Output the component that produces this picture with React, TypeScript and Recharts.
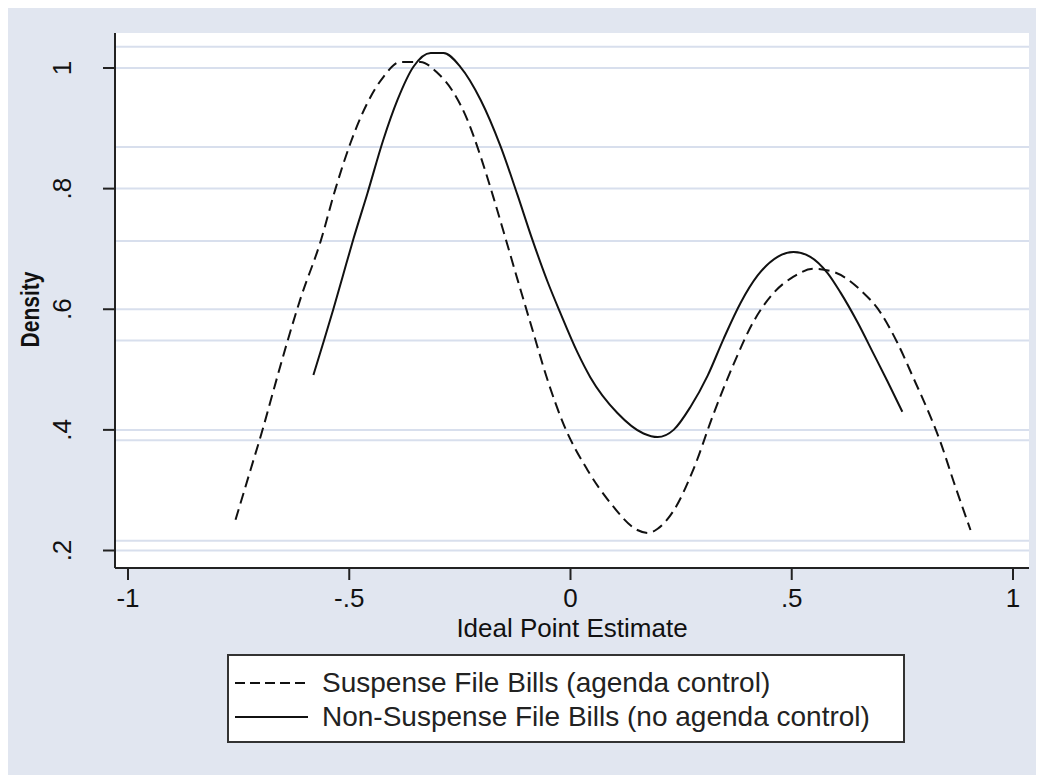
import React from "react";
import {
  LineChart,
  Line,
  XAxis,
  YAxis,
  CartesianGrid,
  ReferenceLine,
  Legend,
} from "recharts";

// kernel density estimates
const suspenseX = [
  -0.757, -0.723, -0.694, -0.671, -0.64, -0.61, -0.565, -0.531, -0.497, -0.459,
  -0.423, -0.384, -0.339, -0.301, -0.264, -0.233, -0.203, -0.174, -0.151, -0.118,
  -0.086, -0.052, -0.016, 0.038, 0.09, 0.151, 0.176, 0.197, 0.233, 0.278, 0.323,
  0.368, 0.414, 0.459, 0.504, 0.549, 0.594, 0.655, 0.701, 0.739, 0.775, 0.814,
  0.836, 0.866, 0.904,
];
const suspenseY = [
  0.251, 0.334, 0.405, 0.466, 0.546, 0.618, 0.712, 0.8, 0.876, 0.942, 0.985,
  1.01, 1.01, 0.992, 0.959, 0.914, 0.853, 0.785, 0.728, 0.645, 0.566, 0.483,
  0.41, 0.334, 0.279, 0.234, 0.229, 0.236, 0.266, 0.335, 0.426, 0.508, 0.58,
  0.627, 0.654, 0.667, 0.662, 0.632, 0.594, 0.544, 0.486, 0.421, 0.38, 0.314,
  0.234,
];

const nonSuspenseX = [
  -0.581, -0.558, -0.536, -0.515, -0.49, -0.459, -0.423, -0.391, -0.355, -0.316,
  -0.287, -0.249, -0.203, -0.158, -0.12, -0.086, -0.052, -0.023, 0.016, 0.045,
  0.106, 0.165, 0.197, 0.233, 0.271, 0.31, 0.346, 0.384, 0.423, 0.468, 0.504,
  0.542, 0.581, 0.61, 0.649, 0.685, 0.716, 0.75,
];
const nonSuspenseY = [
  0.491, 0.546, 0.6, 0.654, 0.718, 0.792, 0.881, 0.947, 1.002, 1.025, 1.025,
  1.002, 0.947, 0.87, 0.79, 0.715, 0.646, 0.594, 0.528, 0.487, 0.428, 0.394,
  0.388, 0.4, 0.438, 0.49, 0.551, 0.61, 0.656, 0.687, 0.695, 0.687, 0.66,
  0.628, 0.578, 0.526, 0.481, 0.43,
];

const xTicks = [-1, -0.5, 0, 0.5, 1];
const yTicks = [0.2, 0.4, 0.6, 0.8, 1];
// second set of faint rules that shows up in the original graph
const extraRules = [1.035, 0.869, 0.713, 0.548, 0.383, 0.216];

const seriesNames = [
  "Suspense File Bills (agenda control)",
  "Non-Suspense File Bills (no agenda control)",
];

const suspense = suspenseX.map((x, i) => ({ x, y: suspenseY[i] }));
const nonSuspense = nonSuspenseX.map((x, i) => ({ x, y: nonSuspenseY[i] }));

const BG = "#e1e6f0";
const RULE = "#d8dfed";
const FONT = "'Liberation Sans', Arial, sans-serif";

// stata style: drop the leading zero
const fmt = (v: number) => (v === 0 ? "0" : String(v).replace("0.", "."));

const YTick = ({ x, y, payload }: any) => (
  <g transform={`translate(${x - 32},${y})`}>
    <text
      transform="rotate(-90)"
      textAnchor="middle"
      fontSize={26}
      fontFamily={FONT}
      fill="#111"
    >
      {fmt(payload.value)}
    </text>
  </g>
);

const XTick = ({ x, y, payload }: any) => (
  <text
    x={x}
    y={y + 27}
    textAnchor="middle"
    fontSize={26}
    fontFamily={FONT}
    fill="#111"
  >
    {fmt(payload.value)}
  </text>
);

const YTitle = ({ viewBox }: any) => {
  const cy = viewBox.y + viewBox.height / 2 + 9;
  return (
    <text
      transform={`translate(32,${cy}) rotate(-90) scale(0.84,1)`}
      textAnchor="middle"
      fontSize={25}
      fontWeight="bold"
      fontFamily={FONT}
      fill="#111"
    >
      Density
    </text>
  );
};

const LegendBox = () => (
  <div
    style={{
      border: "2px solid #333",
      background: "#fff",
      padding: "10px 0 10px 6px",
      fontFamily: FONT,
      fontSize: 28,
      color: "#222",
      boxSizing: "border-box",
      width: 678,
      height: 89,
    }}
  >
    {seriesNames.map((name, i) => (
      <div
        key={name}
        style={{ display: "flex", alignItems: "center", height: 34 }}
      >
        <svg width={73} height={4} style={{ marginRight: 14 }}>
          <line
            x1={0}
            y1={2}
            x2={73}
            y2={2}
            stroke="#111"
            strokeWidth={2}
            strokeDasharray={i === 0 ? "10 5" : undefined}
          />
        </svg>
        <span style={{ whiteSpace: "nowrap" }}>{name}</span>
      </div>
    ))}
  </div>
);

export default function App() {
  return (
    <div style={{ marginLeft: -1, marginTop: -3, background: BG, width: 1037, height: 770 }}>
      <LineChart
        width={1037}
        height={770}
        margin={{ top: 28, right: 15, bottom: 127, left: 0 }}
      >
        <CartesianGrid
          horizontal={false}
          vertical={false}
          fill="#fff"
          stroke="none"
        />
        {yTicks.map((v) => (
          <ReferenceLine key={`g${v}`} y={v} stroke={RULE} strokeWidth={2} />
        ))}
        {extraRules.map((v) => (
          <ReferenceLine key={`r${v}`} y={v} stroke={RULE} strokeWidth={2} />
        ))}
        <XAxis
          type="number"
          dataKey="x"
          domain={[-1.0294, 1.0362]}
          ticks={xTicks}
          allowDataOverflow
          height={80}
          tickSize={12}
          tickMargin={0}
          axisLine={{ stroke: "#222", strokeWidth: 2 }}
          tickLine={{ stroke: "#222", strokeWidth: 2 }}
          tick={<XTick />}
          label={{
            value: "Ideal Point Estimate",
            position: "insideBottom",
            offset: 11,
            fontSize: 26,
            fontFamily: FONT,
            fill: "#111",
          }}
        />
        <YAxis
          type="number"
          domain={[0.171, 1.058]}
          ticks={yTicks}
          allowDataOverflow
          width={108}
          tickSize={12}
          tickMargin={0}
          axisLine={{ stroke: "#222", strokeWidth: 2 }}
          tickLine={{ stroke: "#222", strokeWidth: 2 }}
          tick={<YTick />}
          label={{ content: <YTitle /> }}
        />
        <Line
          data={suspense}
          dataKey="y"
          name={seriesNames[0]}
          type="monotone"
          stroke="#111"
          strokeWidth={2}
          strokeDasharray="11 6"
          dot={false}
          isAnimationActive={false}
        />
        <Line
          data={nonSuspense}
          dataKey="y"
          name={seriesNames[1]}
          type="monotone"
          stroke="#111"
          strokeWidth={2}
          dot={false}
          isAnimationActive={false}
        />
        <Legend
          layout="vertical"
          align="center"
          verticalAlign="middle"
          content={<LegendBox />}
          wrapperStyle={{ left: 220, top: 649, width: 678, height: 89 }}
        />
      </LineChart>
    </div>
  );
}
